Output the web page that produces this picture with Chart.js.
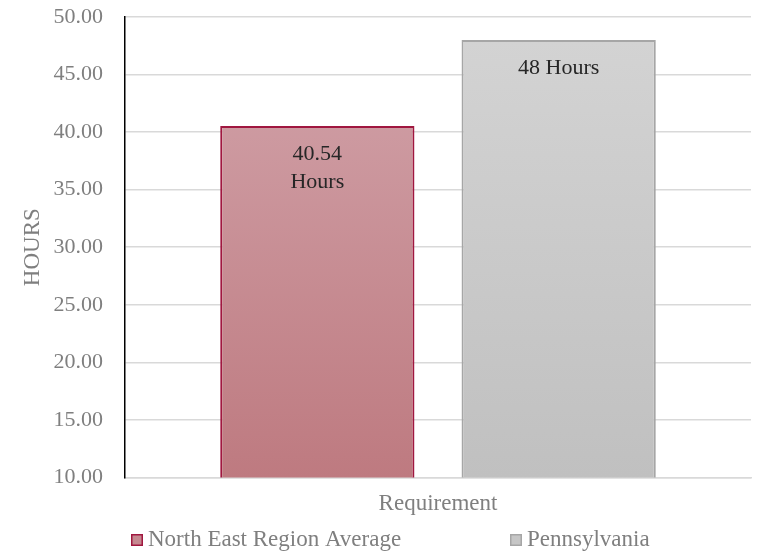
<!DOCTYPE html>
<html>
<head>
<meta charset="utf-8">
<script src="https://cdn.jsdelivr.net/npm/chart.js@4/dist/chart.umd.min.js"></script>
<style>
  html, body { margin: 0; padding: 0; background: #fff; }
  #mainChart { display: block; }
</style>
</head>
<body>
<canvas id="mainChart" width="757" height="554"></canvas>
<script>
// data
var categories = ["Requirement"];
var seriesNames = ["North East Region Average", "Pennsylvania"];
var northEastValues = [40.54];
var pennsylvaniaValues = [48];
var barLabelLines = [["40.54", "Hours"], ["48 Hours"]];
var yMin = 10;
var yMax = 50;
var yStep = 5;

var FONT = "'Liberation Serif', 'Times New Roman', serif";

// vertical gradient over the plot area (excel style fill)
function gradientFill(topColor, bottomColor) {
  return function(context) {
    var chart = context.chart;
    var area = chart.chartArea;
    if (!area) {
      return bottomColor;
    }
    var g = chart.ctx.createLinearGradient(0, area.top, 0, area.bottom);
    g.addColorStop(0, topColor);
    g.addColorStop(1, bottomColor);
    return g;
  };
}

// writes the value labels just inside the top of each bar
var barLabels = {
  id: "barLabels",
  afterDatasetsDraw: function(chart) {
    var ctx = chart.ctx;
    ctx.save();
    ctx.font = "22px " + FONT;
    ctx.fillStyle = "#262626";
    ctx.textAlign = "center";
    ctx.textBaseline = "middle";
    chart.data.datasets.forEach(function(ds, i) {
      var meta = chart.getDatasetMeta(i);
      meta.data.forEach(function(bar) {
        var lines = barLabelLines[i];
        lines.forEach(function(line, j) {
          ctx.fillText(line, bar.x, bar.y + 28 + j * 28);
        });
      });
    });
    ctx.restore();
  }
};

// legend drawn by hand so the two entries sit apart like the original
var bottomLegend = {
  id: "bottomLegend",
  afterDraw: function(chart) {
    var ctx = chart.ctx;
    var xs = [131, 510];
    var y = 540;
    var swatch = ["#c58890", "#c6c6c6"];
    ctx.save();
    ctx.font = "23px " + FONT;
    ctx.textBaseline = "middle";
    ctx.textAlign = "left";
    chart.data.datasets.forEach(function(ds, i) {
      ctx.fillStyle = swatch[i];
      ctx.fillRect(xs[i], y - 6, 12, 12);
      ctx.lineWidth = 1.5;
      ctx.strokeStyle = ds.borderColor;
      ctx.strokeRect(xs[i] + 0.75, y - 5.25, 10.5, 10.5);
      ctx.fillStyle = "#7f7f7f";
      ctx.fillText(ds.label, xs[i] + 17, y);
    });
    ctx.restore();
  }
};

var data = {
  labels: categories,
  datasets: [{
    label: seriesNames[0],
    data: northEastValues,
    backgroundColor: gradientFill("#d2a4ab", "#be7a80"),
    borderColor: "#a0173f",
    borderWidth: 2
  }, {
    label: seriesNames[1],
    data: pennsylvaniaValues,
    backgroundColor: gradientFill("#d4d4d4", "#c0c0c0"),
    borderColor: "#a6a6a6",
    borderWidth: 2
  }]
};

var options = {
  responsive: false,
  animation: false,
  layout: {
    padding: { top: 17, right: 6, bottom: 23, left: 0 }
  },
  datasets: {
    bar: {
      categoryPercentage: 0.771,
      barPercentage: 0.805
    }
  },
  scales: {
    x: {
      grid: { display: false, drawTicks: false },
      border: { color: "#d9d9d9", width: 1.5 },
      ticks: {
        padding: 13,
        color: "#7f7f7f",
        font: { family: FONT, size: 23 }
      }
    },
    y: {
      min: yMin,
      max: yMax,
      // fixed axis width so the plot starts where the original does
      afterFit: function(scale) { scale.width = 125; },
      grid: { color: "#d9d9d9", lineWidth: 1.5, drawTicks: true, tickLength: 22, tickColor: "rgba(0,0,0,0)" },
      border: { color: "#000000", width: 1.5 },
      ticks: {
        stepSize: yStep,
        padding: 0,
        color: "#7f7f7f",
        font: { family: FONT, size: 22 },
        callback: function(v) { return Number(v).toFixed(2); }
      },
      title: {
        display: true,
        text: "HOURS",
        color: "#7f7f7f",
        font: { family: FONT, size: 23 },
        padding: { top: 19, bottom: 0 }
      }
    }
  },
  plugins: {
    legend: { display: false },
    tooltip: { enabled: false }
  }
};

var config = {
  type: "bar",
  data: data,
  options: options,
  plugins: [barLabels, bottomLegend]
};

var ctx = document.getElementById("mainChart");
new Chart(ctx, config);
</script>
</body>
</html>
